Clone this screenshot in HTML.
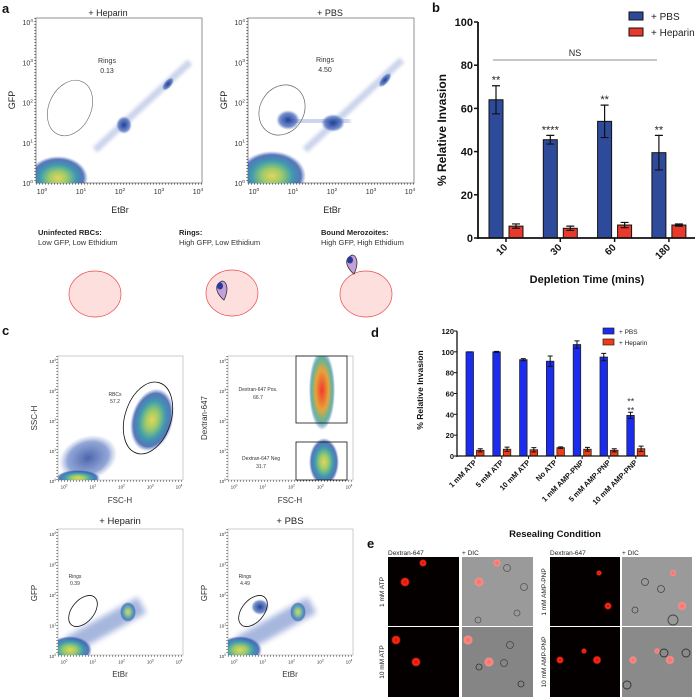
<!DOCTYPE html>
<html><head><meta charset="utf-8">
<style>
html,body{margin:0;padding:0;background:#fff;}
svg{display:block;font-family:"Liberation Sans",sans-serif;}
.lbl{font-size:7px;fill:#333;}
.ax{font-size:9px;fill:#222;}
.pl{font-size:13px;font-weight:bold;fill:#111;}
</style></head>
<body>
<svg id="fig" width="700" height="700" viewBox="0 0 700 700" xmlns="http://www.w3.org/2000/svg">
<defs>
<filter id="bl" x="-50%" y="-50%" width="200%" height="200%"><feGaussianBlur stdDeviation="3"/></filter>
<filter id="bl2" x="-50%" y="-50%" width="200%" height="200%"><feGaussianBlur stdDeviation="1.5"/></filter>
<radialGradient id="dens"><stop offset="0" stop-color="#e6d45a"/><stop offset="0.3" stop-color="#9acb6a"/><stop offset="0.6" stop-color="#3f9bb0"/><stop offset="0.85" stop-color="#2f55a8" stop-opacity="0.8"/><stop offset="1" stop-color="#4a6cc0" stop-opacity="0"/></radialGradient>
<radialGradient id="blu"><stop offset="0" stop-color="#1f3f95"/><stop offset="0.7" stop-color="#3b5fb6" stop-opacity="0.7"/><stop offset="1" stop-color="#6a86cc" stop-opacity="0"/></radialGradient>
<radialGradient id="red"><stop offset="0" stop-color="#f03a2a"/><stop offset="0.5" stop-color="#e8a33a"/><stop offset="0.8" stop-color="#5ab6a0"/><stop offset="1" stop-color="#2a4fa6" stop-opacity="0"/></radialGradient>
<radialGradient id="cellr"><stop offset="0" stop-color="#c01010"/><stop offset="0.55" stop-color="#ff2a1a"/><stop offset="0.8" stop-color="#c51808"/><stop offset="1" stop-color="#300" stop-opacity="0"/></radialGradient>
<radialGradient id="cellp"><stop offset="0" stop-color="#f07070"/><stop offset="0.8" stop-color="#ff8a80"/><stop offset="1" stop-color="#aaa" stop-opacity="0"/></radialGradient>
<clipPath id="cA1"><rect x="36" y="18" width="166" height="165"/></clipPath>
<clipPath id="cA2"><rect x="248" y="18" width="166" height="165"/></clipPath>
<clipPath id="cC1"><rect x="58" y="356" width="125" height="124"/></clipPath>
<clipPath id="cC2"><rect x="228" y="356" width="125" height="124"/></clipPath>
<clipPath id="cC3"><rect x="58" y="529" width="125" height="126"/></clipPath>
<clipPath id="cC4"><rect x="228" y="529" width="125" height="126"/></clipPath>
</defs>

<!-- ================= PANEL A ================= -->
<text class="pl" x="2" y="13">a</text>
<g>
 <text x="108" y="16" text-anchor="middle" class="ax">+ Heparin</text>
 <rect x="36" y="18" width="166" height="165" fill="#fff" stroke="#777" stroke-width="0.8"/>
 <g clip-path="url(#cA1)">
 <line x1="95" y1="150" x2="190" y2="62" stroke="#5a76c0" stroke-width="7" opacity="0.3" filter="url(#bl2)"/>
 <ellipse cx="124" cy="125" rx="8" ry="9" fill="url(#blu)"/>
 <ellipse cx="168" cy="84" rx="4" ry="8" transform="rotate(40 168 84)" fill="url(#blu)"/>
 <ellipse cx="58" cy="178" rx="30" ry="22" fill="url(#dens)"/>
 </g>
 <ellipse cx="70" cy="108" rx="21" ry="29" transform="rotate(25 70 108)" fill="none" stroke="#777" stroke-width="0.7"/>
 <text x="107" y="63" text-anchor="middle" class="lbl">Rings</text><text x="107" y="73" text-anchor="middle" class="lbl">0.13</text>
 <text x="15" y="100" class="ax" transform="rotate(-90 15 100)" text-anchor="middle">GFP</text>
 <text x="120" y="213" class="ax" text-anchor="middle">EtBr</text>
</g>
<g>
 <text x="330" y="16" text-anchor="middle" class="ax">+ PBS</text>
 <rect x="248" y="18" width="166" height="165" fill="#fff" stroke="#777" stroke-width="0.8"/>
 <g clip-path="url(#cA2)">
 <line x1="305" y1="150" x2="402" y2="60" stroke="#5a76c0" stroke-width="7" opacity="0.3" filter="url(#bl2)"/>
 <line x1="290" y1="122" x2="350" y2="120" stroke="#5a76c0" stroke-width="12" opacity="0.3" filter="url(#bl2)"/>
 <ellipse cx="288" cy="120" rx="12" ry="10" fill="url(#blu)"/>
 <ellipse cx="333" cy="123" rx="12" ry="9" fill="url(#blu)"/>
 <ellipse cx="385" cy="80" rx="4" ry="9" transform="rotate(40 385 80)" fill="url(#blu)"/>
 <ellipse cx="272" cy="176" rx="34" ry="25" fill="url(#dens)"/>
 </g>
 <ellipse cx="282" cy="110" rx="22" ry="26" transform="rotate(30 282 110)" fill="none" stroke="#666" stroke-width="0.7"/>
 <text x="325" y="62" text-anchor="middle" class="lbl">Rings</text><text x="325" y="72" text-anchor="middle" class="lbl">4.50</text>
 <text x="227" y="100" class="ax" transform="rotate(-90 227 100)" text-anchor="middle">GFP</text>
 <text x="332" y="213" class="ax" text-anchor="middle">EtBr</text>
</g>
<g id="aTicks"></g>

<g font-size="7.5">
 <text x="38" y="235" font-weight="bold" fill="#222">Uninfected RBCs:</text>
 <text x="38" y="245" fill="#333">Low GFP, Low Ethidium</text>
 <text x="179" y="235" font-weight="bold" fill="#222">Rings:</text>
 <text x="179" y="245" fill="#333">High GFP, Low Ethidium</text>
 <text x="321" y="235" font-weight="bold" fill="#222">Bound Merozoites:</text>
 <text x="321" y="245" fill="#333">High GFP, High Ethidium</text>
 <ellipse cx="95" cy="294" rx="26" ry="23" fill="#fde0de" stroke="#e84848" stroke-width="0.7"/>
 <ellipse cx="232" cy="293" rx="26" ry="23" fill="#fde0de" stroke="#e84848" stroke-width="0.7"/>
 <path d="M222 281 q-8 4 -4 12 q3 5 6 7 q3 -6 3 -12 q-1 -7 -5 -7z" fill="#c4a0d8" stroke="#333" stroke-width="0.8"/>
 <ellipse cx="220" cy="286" rx="3" ry="3.5" fill="#2a3a9a"/>
 <ellipse cx="366" cy="294" rx="26" ry="23" fill="#fde0de" stroke="#e84848" stroke-width="0.7"/>
 <path d="M352 255 q-8 4 -4 12 q3 5 6 7 q3 -6 3 -12 q-1 -7 -5 -7z" fill="#c4a0d8" stroke="#333" stroke-width="0.8"/>
 <ellipse cx="350" cy="260" rx="3" ry="3.5" fill="#2a3a9a"/>
</g>

<!-- ================= PANEL B ================= -->
<text class="pl" x="432" y="12">b</text>
<g id="chartB"></g>

<!-- ================= PANEL C ================= -->
<text class="pl" x="2" y="335">c</text>
<g>
 <rect x="58" y="356" width="125" height="124" fill="#fff" stroke="#aaa" stroke-width="0.6"/>
 <g clip-path="url(#cC1)">
 <ellipse cx="88" cy="458" rx="30" ry="22" transform="rotate(-20 88 458)" fill="url(#blu)" opacity="0.8"/>
 <ellipse cx="78" cy="478" rx="22" ry="8" fill="url(#dens)"/>
 <ellipse cx="152" cy="420" rx="21" ry="32" transform="rotate(15 152 420)" fill="url(#dens)"/>
 </g>
 <ellipse cx="148" cy="418" rx="23" ry="37" transform="rotate(18 148 418)" fill="none" stroke="#111" stroke-width="0.8"/>
 <text x="115" y="396" text-anchor="middle" font-size="5" fill="#333">RBCs</text><text x="115" y="403" text-anchor="middle" font-size="5" fill="#333">57.2</text>
 <text x="37" y="418" font-size="8" fill="#333" transform="rotate(-90 37 418)" text-anchor="middle">SSC-H</text>
 <text x="120" y="503" font-size="8" fill="#333" text-anchor="middle">FSC-H</text>
</g>
<g>
 <rect x="228" y="356" width="125" height="124" fill="#fff" stroke="#aaa" stroke-width="0.6"/>
 <g clip-path="url(#cC2)">
 <ellipse cx="322" cy="390" rx="13" ry="40" fill="url(#red)"/>
 <ellipse cx="324" cy="462" rx="15" ry="24" fill="url(#dens)"/>
 </g>
 <rect x="296" y="356" width="51" height="67" fill="none" stroke="#111" stroke-width="0.8"/>
 <rect x="296" y="442" width="51" height="38" fill="none" stroke="#111" stroke-width="0.8"/>
 <text x="258" y="391" text-anchor="middle" font-size="5" fill="#333">Dextran-647 Pos.</text><text x="258" y="399" text-anchor="middle" font-size="5" fill="#333">66.7</text>
 <text x="261" y="460" text-anchor="middle" font-size="5" fill="#333">Dextran-647 Neg</text><text x="261" y="468" text-anchor="middle" font-size="5" fill="#333">31.7</text>
 <text x="207" y="418" font-size="8" fill="#333" transform="rotate(-90 207 418)" text-anchor="middle">Dextran-647</text>
 <text x="290" y="503" font-size="8" fill="#333" text-anchor="middle">FSC-H</text>
</g>
<g>
 <text x="120" y="524" text-anchor="middle" font-size="9.5" fill="#222">+ Heparin</text>
 <rect x="58" y="529" width="125" height="126" fill="#fff" stroke="#aaa" stroke-width="0.6"/>
 <g clip-path="url(#cC3)">
 <line x1="70" y1="645" x2="142" y2="605" stroke="#3b5fb6" stroke-width="18" opacity="0.45" filter="url(#bl)"/>
 <ellipse cx="128" cy="612" rx="8" ry="10" fill="url(#dens)" opacity="0.8"/>
 <ellipse cx="70" cy="650" rx="22" ry="14" fill="url(#dens)"/>
 </g>
 <ellipse cx="83" cy="611" rx="11" ry="18" transform="rotate(40 83 611)" fill="none" stroke="#111" stroke-width="0.8"/>
 <text x="75" y="578" text-anchor="middle" font-size="5" fill="#333">Rings</text><text x="75" y="585" text-anchor="middle" font-size="5" fill="#333">0.39</text>
 <text x="37" y="593" font-size="8" fill="#333" transform="rotate(-90 37 593)" text-anchor="middle">GFP</text>
 <text x="120" y="677" font-size="8" fill="#333" text-anchor="middle">EtBr</text>
</g>
<g>
 <text x="290" y="524" text-anchor="middle" font-size="9.5" fill="#222">+ PBS</text>
 <rect x="228" y="529" width="125" height="126" fill="#fff" stroke="#aaa" stroke-width="0.6"/>
 <g clip-path="url(#cC4)">
 <line x1="240" y1="645" x2="312" y2="605" stroke="#3b5fb6" stroke-width="18" opacity="0.45" filter="url(#bl)"/>
 <ellipse cx="260" cy="607" rx="9" ry="8" fill="url(#blu)"/>
 <ellipse cx="298" cy="612" rx="8" ry="10" fill="url(#dens)" opacity="0.8"/>
 <ellipse cx="240" cy="650" rx="22" ry="14" fill="url(#dens)"/>
 </g>
 <ellipse cx="253" cy="611" rx="11" ry="18" transform="rotate(40 253 611)" fill="none" stroke="#111" stroke-width="0.8"/>
 <text x="245" y="578" text-anchor="middle" font-size="5" fill="#333">Rings</text><text x="245" y="585" text-anchor="middle" font-size="5" fill="#333">4.49</text>
 <text x="207" y="593" font-size="8" fill="#333" transform="rotate(-90 207 593)" text-anchor="middle">GFP</text>
 <text x="290" y="677" font-size="8" fill="#333" text-anchor="middle">EtBr</text>
</g>

<!-- ================= PANEL D ================= -->
<text class="pl" x="371" y="337">d</text>
<g id="chartD"></g>
<text x="555" y="537" text-anchor="middle" font-size="9.5" font-weight="bold" fill="#111">Resealing Condition</text>

<!-- ================= PANEL E ================= -->
<text class="pl" x="367" y="548">e</text>
<g font-size="6.5" fill="#222">
 <text x="388" y="555">Dextran-647</text><text x="462" y="555">+ DIC</text>
 <text x="550" y="555">Dextran-647</text><text x="622" y="555">+ DIC</text>
 <text x="384" y="592" transform="rotate(-90 384 592)" text-anchor="middle">1 mM ATP</text>
 <text x="384" y="662" transform="rotate(-90 384 662)" text-anchor="middle">10 mM ATP</text>
 <text x="546" y="592" transform="rotate(-90 546 592)" text-anchor="middle">1 mM AMP-PNP</text>
 <text x="546" y="662" transform="rotate(-90 546 662)" text-anchor="middle">10 mM AMP-PNP</text>
 <rect x="388" y="557" width="71" height="69" fill="#050000"/>
 <circle cx="423" cy="563" r="4" fill="url(#cellr)"/><circle cx="405" cy="582" r="5" fill="url(#cellr)"/>
 <rect x="462" y="557" width="71" height="69" fill="#9a9a9a"/>
 <circle cx="497" cy="563" r="4" fill="url(#cellp)"/><circle cx="479" cy="582" r="5" fill="url(#cellp)"/>
 <circle cx="507" cy="568" r="3.5" fill="none" stroke="#555" stroke-width="0.8"/><circle cx="524" cy="587" r="3.5" fill="none" stroke="#555" stroke-width="0.8"/><circle cx="517" cy="613" r="3" fill="none" stroke="#555" stroke-width="0.8"/><circle cx="478" cy="620" r="3" fill="none" stroke="#555" stroke-width="0.8"/>
 <rect x="550" y="557" width="70" height="69" fill="#050000"/>
 <circle cx="599" cy="573" r="3" fill="url(#cellr)"/><circle cx="608" cy="606" r="4" fill="url(#cellr)"/>
 <rect x="622" y="557" width="70" height="69" fill="#9a9a9a"/>
 <circle cx="673" cy="573" r="3.5" fill="url(#cellp)"/><circle cx="682" cy="606" r="4.5" fill="url(#cellp)"/>
 <circle cx="645" cy="582" r="3.5" fill="none" stroke="#444" stroke-width="0.8"/><circle cx="661" cy="589" r="3.5" fill="none" stroke="#444" stroke-width="0.8"/><circle cx="673" cy="620" r="5" fill="none" stroke="#444" stroke-width="0.9"/><circle cx="635" cy="610" r="3" fill="none" stroke="#444" stroke-width="0.8"/>
 <rect x="388" y="627" width="71" height="70" fill="#050000"/>
 <circle cx="396" cy="640" r="5" fill="url(#cellr)"/><circle cx="416" cy="662" r="5" fill="url(#cellr)"/>
 <rect x="462" y="627" width="71" height="70" fill="#858585"/>
 <circle cx="468" cy="640" r="5" fill="url(#cellp)"/><circle cx="489" cy="662" r="5" fill="url(#cellp)"/>
 <circle cx="510" cy="645" r="3.5" fill="none" stroke="#444" stroke-width="0.8"/><circle cx="504" cy="663" r="3.5" fill="none" stroke="#444" stroke-width="0.8"/><circle cx="521" cy="684" r="3" fill="none" stroke="#333" stroke-width="0.8"/><circle cx="479" cy="667" r="3" fill="none" stroke="#333" stroke-width="0.8"/>
 <rect x="550" y="627" width="70" height="70" fill="#050000"/>
 <circle cx="560" cy="660" r="4" fill="url(#cellr)"/><circle cx="584" cy="651" r="3" fill="url(#cellr)"/><circle cx="597" cy="660" r="4.5" fill="url(#cellr)"/>
 <rect x="622" y="627" width="70" height="70" fill="#8a8a8a"/>
 <circle cx="633" cy="660" r="4" fill="url(#cellp)"/><circle cx="657" cy="651" r="3" fill="url(#cellp)"/><circle cx="670" cy="660" r="4.5" fill="url(#cellp)"/>
 <circle cx="664" cy="653" r="4" fill="none" stroke="#333" stroke-width="0.9"/><circle cx="686" cy="653" r="4" fill="none" stroke="#333" stroke-width="0.9"/><circle cx="627" cy="685" r="4" fill="none" stroke="#333" stroke-width="0.9"/>
</g>
</svg>

<script>
// ---------- Panel B data ----------
const bCategories = ["10", "30", "60", "180"];
const bPBS = [64, 45.5, 54, 39.5];
const bPBSErr = [6.5, 2, 7.5, 8];
const bHeparin = [5.5, 4.5, 6, 6];
const bHeparinErr = [1, 1, 1.2, 0.5];
const bStars = ["**", "****", "**", "**"];
const bTicks = [0, 20, 40, 60, 80, 100];

// ---------- Panel D data ----------
const dCategories = ["1 mM ATP", "5 mM ATP", "10 mM ATP", "No ATP", "1 mM AMP-PNP", "5 mM AMP-PNP", "10 mM AMP-PNP"];
const dPBS = [100, 100, 92.5, 91, 107, 95, 39];
const dPBSErr = [0, 0.5, 1, 5, 3.5, 3.5, 3];
const dHeparin = [5.5, 6.5, 6, 8, 6.5, 5.5, 7];
const dHeparinErr = [1.5, 2, 2, 0.8, 1.8, 1.5, 2.5];
const dTicks = [0, 20, 40, 60, 80, 100, 120];

const NS = "http://www.w3.org/2000/svg";
function mk(parent, tag, attrs, text) {
  const e = document.createElementNS(NS, tag);
  for (const k in attrs) e.setAttribute(k, attrs[k]);
  if (text !== undefined) e.textContent = text;
  parent.appendChild(e);
  return e;
}

// ---------- Panel B ----------
(function () {
  const g = document.getElementById('chartB');
  const x0 = 478, x1 = 695, yBase = 238, yTop = 22, vmax = 100;
  const y = v => yBase - (v / vmax) * (yBase - yTop);
  const gx = i => 506 + i * 54.3;
  const bw = 14;
  bTicks.forEach(t => {
    const tk = mk(g, 'line', { x1: x0 - 4, x2: x0, y1: y(t), y2: y(t), stroke: '#111', 'stroke-width': 1.5 });
    
    
    const tl = mk(g, 'text', { x: x0 - 5, y: y(t) + 4, 'text-anchor': 'end', 'font-size': 11, 'font-weight': 'bold', fill: '#111' }, t);
    
    
  });
  const yt = mk(g, 'text', { x: 446, y: 130, transform: 'rotate(-90 446 130)', 'text-anchor': 'middle', 'font-size': 12, 'font-weight': 'bold', fill: '#111' }, '% Relative Invasion');
  
  
  const ns = mk(g, 'line', { x1: 493, x2: 657, y1: 60, y2: 60, stroke: '#666', 'stroke-width': 0.8 });
  
  
  const nst = mk(g, 'text', { x: 575, y: 56, 'text-anchor': 'middle', 'font-size': 9, fill: '#222' }, 'NS');
  
  
  bCategories.forEach((c, i) => {
    const cx = gx(i);
    const series = [[bPBS[i], bPBSErr[i], '#2e4b9b', cx - 17], [bHeparin[i], bHeparinErr[i], '#e8392a', cx + 3]];
    series.forEach((s, j) => {
      const r = mk(g, 'rect', { x: s[3], y: y(s[0]), width: bw, height: yBase - y(s[0]), fill: s[2], stroke: '#111', 'stroke-width': 1 });
      
      
      const mx = s[3] + bw / 2;
      const eb = mk(g, 'path', { d: `M${mx} ${y(s[0] + s[1])}V${y(s[0] - s[1])}M${mx - 4} ${y(s[0] + s[1])}h8M${mx - 4} ${y(s[0] - s[1])}h8`, stroke: '#111', 'stroke-width': 1.2, fill: 'none' });
      
      
    });
    const st = mk(g, 'text', { x: cx - 10, y: y(bPBS[i] + bPBSErr[i]) - 2, 'text-anchor': 'middle', 'font-size': 11, fill: '#222' }, bStars[i]);
    
    
    const tk = mk(g, 'line', { x1: cx, x2: cx, y1: yBase, y2: yBase + 4, stroke: '#111', 'stroke-width': 1.5 });
    
    
    const tl = mk(g, 'text', { x: cx + 2, y: yBase + 10, 'text-anchor': 'end', transform: `rotate(-45 ${cx + 2} ${yBase + 10})`, 'font-size': 10, 'font-weight': 'bold', fill: '#111' }, c);
    
    
  });
  mk(g, 'line', { x1: x0, x2: x0, y1: yTop, y2: yBase + 1, stroke: '#111', 'stroke-width': 1.8 });
  mk(g, 'line', { x1: x0, x2: x1, y1: yBase, y2: yBase, stroke: '#111', 'stroke-width': 1.8 });
  const xt = mk(g, 'text', { x: 587, y: 283, 'text-anchor': 'middle', 'font-size': 11, 'font-weight': 'bold', fill: '#111' }, 'Depletion Time (mins)');
  
  
  [['+ PBS', '#2e4b9b', 12], ['+ Heparin', '#e8392a', 28]].forEach(l => {
    const sw = mk(g, 'rect', { x: 629, y: l[2], width: 14, height: 8, fill: l[1], stroke: '#111', 'stroke-width': 1 });
    
    
    const lt = mk(g, 'text', { x: 651, y: l[2] + 8, 'font-size': 10, fill: '#222' }, l[0]);
    
    
  });
})();

// ---------- Panel D ----------
(function () {
  const g = document.getElementById('chartD');
  const x0 = 457, x1 = 648, yBase = 456, yTop = 331, vmax = 120;
  const y = v => yBase - (v / vmax) * (yBase - yTop);
  const gx = i => 475 + i * 26.8;
  const bw = 7.5;
  dTicks.forEach(t => {
    const tk = mk(g, 'line', { x1: x0 - 3, x2: x0, y1: y(t), y2: y(t), stroke: '#111', 'stroke-width': 1 });
    
    
    const tl = mk(g, 'text', { x: x0 - 3, y: y(t) + 3, 'text-anchor': 'end', 'font-size': 7.5, 'font-weight': 'bold', fill: '#111' }, t);
    
    
  });
  const yt = mk(g, 'text', { x: 423, y: 390, transform: 'rotate(-90 423 390)', 'text-anchor': 'middle', 'font-size': 8.5, 'font-weight': 'bold', fill: '#111' }, '% Relative Invasion');
  
  
  dCategories.forEach((c, i) => {
    const cx = gx(i);
    const series = [[dPBS[i], dPBSErr[i], '#1a2cf0', cx - 9], [dHeparin[i], dHeparinErr[i], '#f23a14', cx + 1.5]];
    series.forEach((s, j) => {
      const r = mk(g, 'rect', { x: s[3], y: y(s[0]), width: bw, height: yBase - y(s[0]), fill: s[2], stroke: '#222', 'stroke-width': 0.8 });
      
      
      const mx = s[3] + bw / 2;
      const eb = mk(g, 'path', { d: `M${mx} ${y(s[0] + s[1])}V${y(s[0] - s[1])}M${mx - 2.5} ${y(s[0] + s[1])}h5M${mx - 2.5} ${y(s[0] - s[1])}h5`, stroke: '#111', 'stroke-width': 1, fill: 'none' });
      
      
    });
    const tk = mk(g, 'line', { x1: cx, x2: cx, y1: yBase, y2: yBase + 3, stroke: '#111', 'stroke-width': 1 });
    
    
    const tl = mk(g, 'text', { x: cx + 2, y: yBase + 7, 'text-anchor': 'end', transform: `rotate(-45 ${cx + 2} ${yBase + 7})`, 'font-size': 7.5, 'font-weight': 'bold', fill: '#111' }, c);
    
    
  });
  const last = dCategories.length - 1;
  const sx = gx(last) - 5;
  const st1 = mk(g, 'text', { x: sx, y: y(dPBS[last] + dPBSErr[last]) - 8, 'text-anchor': 'middle', 'font-size': 9, fill: '#333' }, '**');
  
  
  const st2 = mk(g, 'text', { x: sx, y: y(dPBS[last] + dPBSErr[last]) + 1, 'text-anchor': 'middle', 'font-size': 9, fill: '#333' }, '**');
  
  
  mk(g, 'line', { x1: x0, x2: x0, y1: yTop, y2: yBase + 1, stroke: '#111', 'stroke-width': 1.3 });
  mk(g, 'line', { x1: x0, x2: x1, y1: yBase, y2: yBase, stroke: '#111', 'stroke-width': 1.3 });
  [['+ PBS', '#1a2cf0', 328], ['+ Heparin', '#f23a14', 339]].forEach(l => {
    const sw = mk(g, 'rect', { x: 603, y: l[2], width: 11, height: 6, fill: l[1], stroke: '#222', 'stroke-width': 0.7 });
    
    
    const lt = mk(g, 'text', { x: 619, y: l[2] + 6, 'font-size': 6.5, fill: '#222' }, l[0]);
    
    
  });
})();

// ---------- Log-axis tick labels (flow plots) ----------
(function () {
  const g = document.getElementById('aTicks');
  const exps = [0, 1, 2, 3, 4];
  function axis(x0, y0, w, h, fs, off) {
    exps.forEach(e => {
      const yy = y0 + h - (e / 4) * (h - 4);
      const t = mk(g, 'text', { x: x0 - off, y: yy + 3, 'text-anchor': 'end', 'font-size': fs, fill: '#333' });
      mk(t, 'tspan', {}, '10');
      mk(t, 'tspan', { dy: -fs * 0.45, 'font-size': fs * 0.7 }, e);
      const xx = x0 + 6 + (e / 4) * (w - 10);
      const t2 = mk(g, 'text', { x: xx, y: y0 + h + fs + 4, 'text-anchor': 'middle', 'font-size': fs, fill: '#333' });
      mk(t2, 'tspan', {}, '10');
      mk(t2, 'tspan', { dy: -fs * 0.45, 'font-size': fs * 0.7 }, e);
    });
    mk(g, 'line', { x1: x0, x2: x0 + w, y1: y0 + h + 1, y2: y0 + h + 1, stroke: '#444', 'stroke-width': 1, 'stroke-dasharray': '1 2' });
    mk(g, 'line', { x1: x0 - 1, x2: x0 - 1, y1: y0, y2: y0 + h, stroke: '#444', 'stroke-width': 1, 'stroke-dasharray': '1 2' });
  }
  axis(36, 18, 166, 165, 7, 3);
  axis(248, 18, 166, 165, 7, 3);
  axis(58, 356, 125, 124, 4.5, 2);
  axis(228, 356, 125, 124, 4.5, 2);
  axis(58, 529, 125, 126, 4.5, 2);
  axis(228, 529, 125, 126, 4.5, 2);
})();
</script>
</body></html>
